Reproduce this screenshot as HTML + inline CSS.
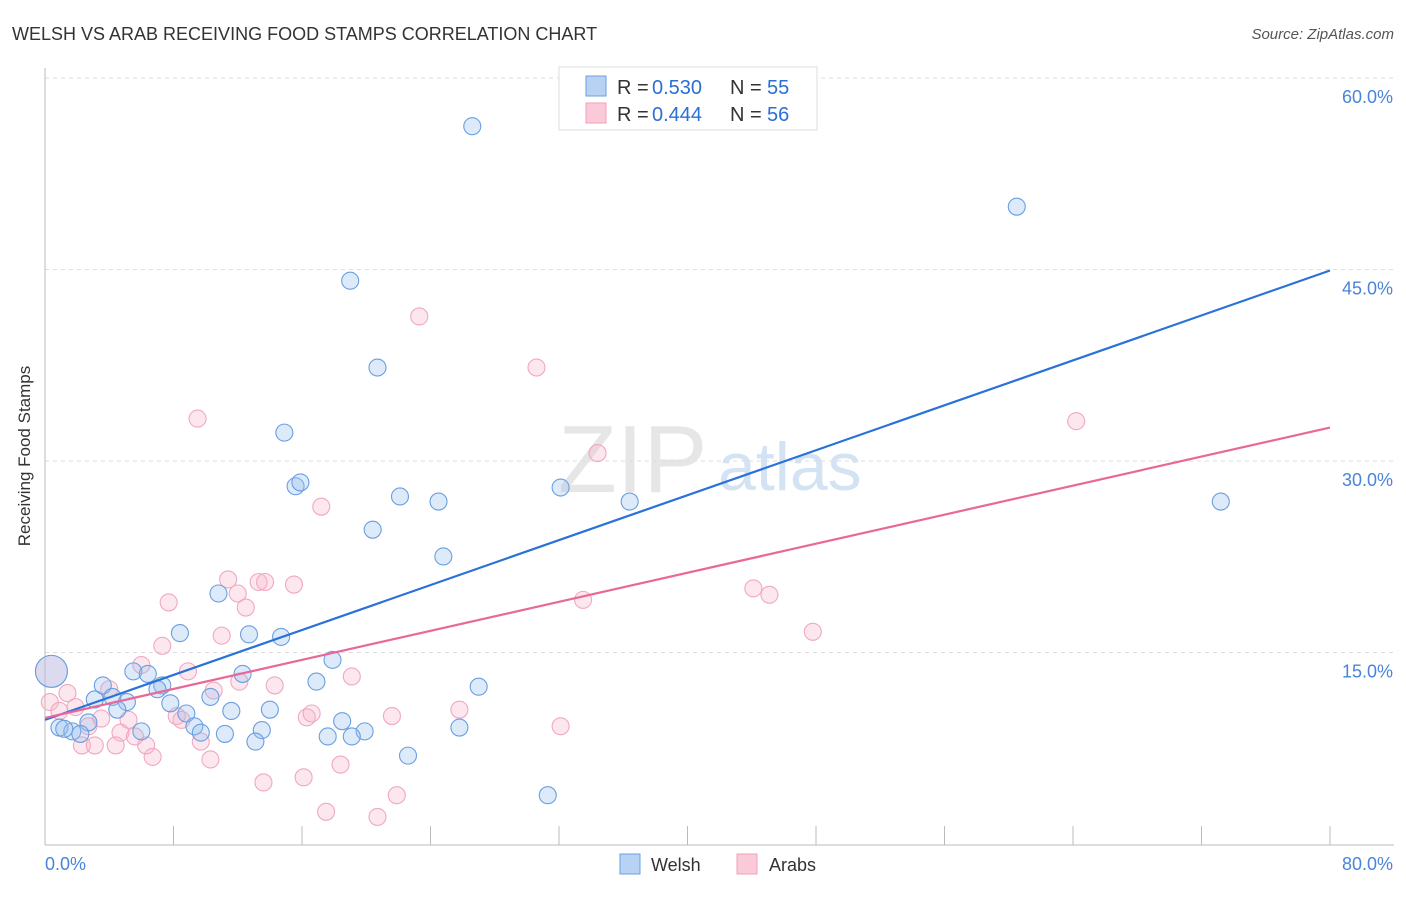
<!DOCTYPE html>
<html><head><meta charset="utf-8"><style>
body{margin:0;background:#fff;font-family:"Liberation Sans",sans-serif;}
svg text{font-family:"Liberation Sans",sans-serif;}
</style></head><body>
<svg id="chart" width="1406" height="892">
<text x="12" y="40" font-size="18" fill="#333">WELSH VS ARAB RECEIVING FOOD STAMPS CORRELATION CHART</text>
<text x="1394" y="39" font-size="15" fill="#555" font-style="italic" text-anchor="end">Source: ZipAtlas.com</text>
<text x="30" y="456" font-size="17" fill="#333" text-anchor="middle" transform="rotate(-90 30 456)">Receiving Food Stamps</text>
<g>
<text x="558" y="492" font-size="96" fill="#e6e6e6" font-family="Liberation Serif,serif">ZIP</text>
<text x="718" y="490" font-size="68" fill="#d4e3f4">atlas</text>
</g>
<g id="grid"></g><g id="axes"></g><g id="pts"></g><g id="lines"></g>
<g>
<rect x="559" y="67" width="258" height="63" fill="#fff" stroke="#ddd"/>
<rect x="586" y="76" width="20" height="20" fill="#b8d2f4" stroke="#6a9fe0"/>
<rect x="586" y="103" width="20" height="20" fill="#fbcad8" stroke="#f0a0b8"/>
<text x="617" y="94" font-size="20" fill="#333">R =</text>
<text x="652" y="94" font-size="20" fill="#2a6fd6">0.530</text>
<text x="730" y="94" font-size="20" fill="#333">N =</text>
<text x="767" y="94" font-size="20" fill="#2a6fd6">55</text>
<text x="617" y="121" font-size="20" fill="#333">R =</text>
<text x="652" y="121" font-size="20" fill="#2a6fd6">0.444</text>
<text x="730" y="121" font-size="20" fill="#333">N =</text>
<text x="767" y="121" font-size="20" fill="#2a6fd6">56</text>
</g>
<g>
<rect x="620" y="854" width="20" height="20" fill="#b8d2f4" stroke="#6a9fe0"/>
<text x="651" y="871" font-size="18" fill="#333">Welsh</text>
<rect x="737" y="854" width="20" height="20" fill="#fbcad8" stroke="#f0a0b8"/>
<text x="769" y="871" font-size="18" fill="#333">Arabs</text>
</g>
</svg>
<script>
const xTicks=[0,80];
const yTicks=[15,30,45,60];
const welshX=[26.6,60.5,19.0,20.7,14.9,15.6,15.9,22.1,24.5,32.1,36.4,73.2,20.4,24.8,10.8,8.4,12.7,14.7,17.9,5.5,6.4,12.3,7.3,7.0,3.6,4.2,3.1,5.1,16.9,27.0,7.8,10.3,8.8,11.6,14.0,4.5,9.3,2.7,6.0,9.7,11.2,13.5,13.1,18.5,19.9,19.1,17.6,25.8,22.6,31.3,0.9,1.7,2.2,1.2,0.4];
const welshY=[56.3,50.0,44.2,37.4,32.3,28.1,28.4,27.3,26.9,28.0,26.9,26.9,24.7,22.6,19.7,16.6,16.5,16.3,14.5,13.6,13.4,13.4,12.5,12.2,12.5,11.6,11.4,11.2,12.8,12.4,11.1,11.6,10.3,10.5,10.6,10.6,9.3,9.6,8.9,8.8,8.7,9.0,8.1,9.7,8.9,8.5,8.5,9.2,7.0,3.9,9.2,8.9,8.7,9.1,13.6];
const arabX=[23.3,30.6,9.5,34.4,64.2,17.2,11.4,13.3,13.7,15.5,12.0,7.7,12.5,44.1,45.1,33.5,47.8,7.3,11.0,6.0,8.9,4.0,10.5,12.1,14.3,19.1,1.4,1.9,0.3,0.9,3.5,5.2,8.2,8.5,16.3,16.6,25.8,21.6,32.1,2.7,4.7,6.3,9.7,2.3,3.1,4.4,6.7,10.3,16.1,18.4,13.6,17.5,20.7,21.9,0.4,5.6];
const arabY=[41.4,37.4,33.4,30.7,33.2,26.5,20.8,20.6,20.6,20.4,19.7,19.0,18.6,20.1,19.6,19.2,16.7,15.6,16.4,14.1,13.6,12.2,12.1,12.8,12.5,13.2,11.9,10.8,11.2,10.5,9.9,9.8,10.1,9.8,10.0,10.3,10.6,10.1,9.3,9.3,8.8,7.8,8.1,7.8,7.8,7.8,6.9,6.7,5.3,6.3,4.9,2.6,2.2,3.9,13.6,8.5];
const welshBig=[54];const arabBig=[54];
const welshTrend=[9.8,45.0];const arabTrend=[9.95,32.7];
const X=v=>45+v/80*1285, Y=v=>845-v/60*766;
const NS='http://www.w3.org/2000/svg';
function mk(p,t,a){const e=document.createElementNS(NS,t);for(const k in a)e.setAttribute(k,a[k]);p.appendChild(e);return e;}
const grid=document.getElementById('grid'),axes=document.getElementById('axes'),pts=document.getElementById('pts'),lines=document.getElementById('lines');
yTicks.forEach(t=>{
const l=mk(grid,'line',{x1:45,x2:1394,y1:Y(t)-1,y2:Y(t)-1,stroke:'#ddd','stroke-dasharray':'4,4'});


const tx=mk(axes,'text',{x:1393,y:Y(t)+24,'font-size':18,fill:'#4a84d8','text-anchor':'end'});tx.textContent=t.toFixed(1)+'%';


});
mk(axes,'line',{x1:45,x2:45,y1:68,y2:845,stroke:'#bbb'});
mk(axes,'line',{x1:45,x2:1394,y1:845,y2:845,stroke:'#bbb'});
for(let i=0;i<=10;i++){const x=X(i*8);const t=mk(axes,'line',{x1:x,x2:x,y1:826,y2:845,stroke:'#bbb'});

}
xTicks.forEach((t,i)=>{const tx=mk(axes,'text',{x:i?1393:45,y:870,'font-size':18,fill:'#4a84d8','text-anchor':i?'end':'start'});tx.textContent=t.toFixed(1)+'%';

});
function series(xs,ys,big,fill,stroke,name){xs.forEach((v,i)=>{const r=big.includes(i)?16:8.5;
const c=mk(pts,'circle',{cx:X(v),cy:Y(ys[i]),r:r,fill:fill,stroke:stroke,'stroke-width':1.1});

});}
series(arabX,arabY,arabBig,'rgba(248,180,202,0.32)','#f0a8c0','arab-point');
series(welshX,welshY,welshBig,'rgba(150,190,240,0.32)','#6a9fe0','welsh-point');
const l1=mk(lines,'line',{x1:X(0),y1:Y(welshTrend[0]),x2:X(80),y2:Y(welshTrend[1]),stroke:'#2a72d8','stroke-width':2.2});


const l2=mk(lines,'line',{x1:X(0),y1:Y(arabTrend[0]),x2:X(80),y2:Y(arabTrend[1]),stroke:'#e8689a','stroke-width':2.2});


</script>
</body></html>
